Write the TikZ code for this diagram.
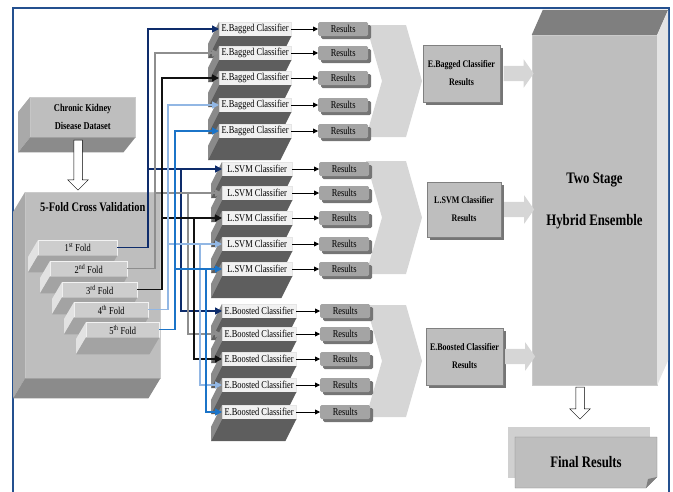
\documentclass[tikz,border=0pt]{standalone}
\usepackage{fontspec}
\setmainfont{Liberation Serif}[FakeStretch=0.8]
\usetikzlibrary{arrows.meta, calc, shapes.arrows, shadows}

\definecolor{frameblue}{HTML}{24508F}
\definecolor{navyline}{HTML}{0E2C6B}
\definecolor{grayline}{HTML}{8E8E8E}
\definecolor{blackline}{HTML}{111111}
\definecolor{lightline}{HTML}{92B7E4}
\definecolor{blueline}{HTML}{1B74C8}
\definecolor{boxface}{HTML}{BEBEBE}
\definecolor{boxside}{HTML}{A9A9A9}
\definecolor{boxbottom}{HTML}{8B8B8B}
\definecolor{foldface}{HTML}{CDCDCD}
\definecolor{foldside}{HTML}{E2E2E2}
\definecolor{foldbottom}{HTML}{A3A3A3}
\definecolor{clsface}{HTML}{F1F1F1}
\definecolor{clsside}{HTML}{8A8A8A}
\definecolor{clsbottom}{HTML}{5E5E5E}
\definecolor{resface}{HTML}{A4A4A4}
\definecolor{resshadow}{HTML}{757575}
\definecolor{chevron}{HTML}{D6D6D6}
\definecolor{bigtop}{HTML}{7F7F7F}
\definecolor{bigside}{HTML}{E4E4E4}
\definecolor{docback}{HTML}{D0D0D0}

% depth of a box: node, dx, dy, side colour, bottom colour
\newcommand{\boxdepth}[5]{%
  \fill[#4] (#1.north west) -- (#1.south west) -- ++(#2,#3) -- ([shift={(#2,#3)}]#1.north west) -- cycle;
  \fill[#5] (#1.south west) -- (#1.south east) -- ++(#2,#3) -- ([shift={(#2,#3)}]#1.south west) -- cycle;}

\begin{document}
\begin{tikzpicture}[x=1pt, y=-1pt,
  face/.style={fill=boxface, draw=boxface!80!white, inner sep=0pt},
  foldbox/.style={fill=foldface, draw=white!90!gray, inner sep=0pt, minimum height=15pt, anchor=north west, font=\fontsize{10.5}{12}\selectfont},
  clsbox/.style={fill=clsface, draw=white!80!gray, line width=0.3pt, inner sep=1pt, minimum height=14pt, anchor=west, font=\fontsize{10.5}{12}\selectfont},
  resbox/.style={fill=resface, rounded corners=1.5pt, inner sep=0pt, minimum width=50pt, minimum height=14pt, anchor=west, font=\fontsize{10.5}{12}\selectfont, drop shadow={shadow xshift=3pt, shadow yshift=-3pt, fill=resshadow, opacity=1}},
  midbox/.style={fill=boxface, draw=gray, line width=0.3pt, inner sep=0pt, align=center, font=\bfseries\fontsize{10}{18}\selectfont, drop shadow={shadow xshift=3pt, shadow yshift=-3pt, fill=resshadow, opacity=1}},
  hollowarrow/.style={single arrow, draw=black, fill=white, line width=0.5pt, inner sep=4pt, single arrow head extend=6pt, rotate=-90},
  blockarrow/.style={single arrow, fill=chevron, inner sep=7.5pt, single arrow head extend=6.5pt, single arrow tip angle=110},
  foldarrow/.style={line width=1.5pt, -{Triangle[length=7pt, width=7pt]}},
  resarrow/.style={line width=0.8pt, -{Triangle[length=5pt, width=5pt]}}
]
  \useasboundingbox (0,0) rectangle (673,491);
  % Frame
  \draw[frameblue, line width=1.3pt] (13,495) -- (13,8) -- (669,8) -- (669,495);

  % Dataset and cross validation
  \node[face, minimum width=105pt, minimum height=40pt, anchor=north west, align=center,
        font=\bfseries\fontsize{10.5}{18}\selectfont] (data) at (30,97) {Chronic Kidney\\Disease Dataset};
  \boxdepth{data}{-12}{15}{boxside}{boxbottom}
  \node[face, minimum width=135pt, minimum height=186pt, anchor=north west] (cv) at (25,192) {};
  \boxdepth{cv}{-12}{20}{boxside}{boxbottom}
  \node[font=\bfseries\fontsize{13}{15}\selectfont] (cvtitle) at ([yshift=-15pt]cv.north) {5-Fold Cross Validation};
  \node[hollowarrow, minimum height=50pt] (dsarrow) at (78,163) {};

  % Folds
  \foreach \i/\x/\y/\w/\ord in {1/38/240/79/st, 2/50/261/77/nd, 3/62/282/75/rd, 4/74/302/74/th, 5/86/322/73/th} {
    \node[foldbox, minimum width=\w] (f\i) at (\x,\y) {\i\textsuperscript{\ord} Fold};
    \boxdepth{f\i}{-10}{17}{foldside}{foldbottom}
  }

  % Chevrons behind the results
  \foreach \t/\b in {25/137, 161/274, 305/417} {
    \pgfmathsetmacro\m{(\t+\b)/2}
    \fill[chevron] (366,\t) -- (406,\t) -- (422,\m) -- (406,\b) -- (366,\b) -- (382,\m) -- cycle;
  }

  % Classifiers
  \foreach \i/\y in {1/29, 2/53, 3/78, 4/105, 5/131} {
    \node[clsbox, minimum width=72pt] (bag\i) at (219,\y) {E.Bagged Classifier};
    \boxdepth{bag\i}{-11}{22}{clsside}{clsbottom}
    \node[resbox] (rbag\i) at (318,\y) {Results};
    \draw[resarrow] (bag\i) -- (rbag\i);
  }
  \foreach \i/\y in {1/169, 2/193, 3/218, 4/244, 5/269} {
    \node[clsbox, minimum width=70pt] (svm\i) at (222,\y) {L.SVM Classifier};
    \boxdepth{svm\i}{-11}{22}{clsside}{clsbottom}
    \node[resbox] (rsvm\i) at (319,\y) {Results};
    \draw[resarrow] (svm\i) -- (rsvm\i);
  }
  \foreach \i/\y in {1/311, 2/334, 3/359, 4/385, 5/412} {
    \node[clsbox, minimum width=74pt] (bst\i) at (222,\y) {E.Boosted Classifier};
    \boxdepth{bst\i}{-11}{22}{clsside}{clsbottom}
    \node[resbox] (rbst\i) at (320,\y) {Results};
    \draw[resarrow] (bst\i) -- (rbst\i);
  }

  % Fold connectors
  \foreach \i/\col/\xa/\xb in {1/navyline/148/181, 2/grayline/155/188, 3/blackline/162/194, 4/lightline/168/200, 5/blueline/175/206} {
    \coordinate (busa\i) at (\xa,0);
    \coordinate (busb\i) at (\xb,0);
    \draw[foldarrow, \col] (f\i.east) -| (busa\i |- bag\i.west) -- (bag\i.west);
    \draw[foldarrow, \col] (busa\i |- svm\i.west) -- (svm\i.west);
    \draw[foldarrow, \col] (busb\i |- svm\i.west) |- (bst\i.west);
  }

  % Group results
  \node[midbox, minimum width=77pt, minimum height=57pt] (bagres) at (461.5,73.5) {E.Bagged Classifier\\Results};
  \node[midbox, minimum width=74pt, minimum height=55pt] (svmres) at (464,209.5) {L.SVM Classifier\\Results};
  \node[midbox, minimum width=77pt, minimum height=57pt] (bstres) at (464.5,356.5) {E.Boosted Classifier\\Results};

  % Hybrid ensemble
  \node[face, minimum width=125pt, minimum height=350pt] (hyb) at (594.5,210) {};
  \fill[bigtop] (hyb.north west) -- ++(11,-25) -- ([shift={(11,-25)}]hyb.north east) -- (hyb.north east) -- cycle;
  \fill[bigside] (hyb.north east) -- ++(11,-25) -- ([shift={(11,-25)}]hyb.south east) -- (hyb.south east) -- cycle;
  \node[font=\bfseries\fontsize{16}{42}\selectfont, align=center] (hyblabel) at ([yshift=9pt]hyb.center) {Two Stage\\Hybrid Ensemble};
  \foreach \m in {bagres, svmres, bstres}
    \node[blockarrow, minimum height=30pt] at ($(\m.east)!0.5!(\m.east -| hyb.west)$) {};

  % Final results
  \fill[docback] (508,427) rectangle (650,478);
  \filldraw[fill=boxface, draw=gray, line width=0.3pt] (515,437) -- (657,437) -- (657,477) -- (646,488) -- (515,488) -- cycle;
  \fill[bigtop] (646,488) -- (648,479) -- (657,477) -- cycle;
  \node[font=\bfseries\fontsize{16}{18}\selectfont] (fin) at (586,462.5) {Final Results};
  \node[hollowarrow, minimum height=32pt] (finarrow) at (580,401) {};
\end{tikzpicture}
\end{document}
